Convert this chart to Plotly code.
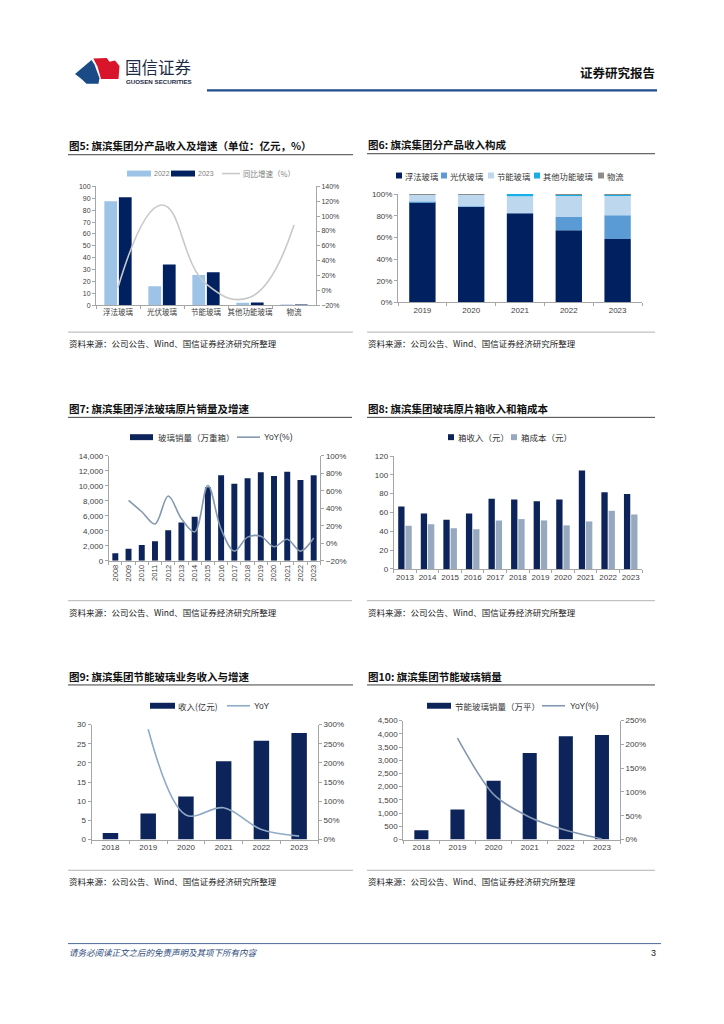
import plotly.graph_objects as go

OFF = 8           # page body margin of the browser
W, H = 708, 1008  # figure size (page area minus margins)

# ---------------- data ----------------
cat5 = ["浮法玻璃", "光伏玻璃", "节能玻璃", "其他功能玻璃", "物流"]
rev2022 = [87.5, 16.0, 25.5, 2.2, 0.2]
rev2023 = [91.0, 34.4, 27.8, 2.3, 0.4]
yoy5 = [4, 115, 9, -9, 88]

years6 = ["2019", "2020", "2021", "2022", "2023"]
float6 = [92.5, 88.2, 82.3, 66.5, 58.5]
pv6 = [0.4, 0.3, 0.0, 12.3, 22.0]
eco6 = [6.4, 10.8, 15.6, 19.5, 17.9]
other6 = [0.0, 0.0, 2.1, 1.5, 1.5]
logi6 = [0.7, 0.7, 0.0, 0.2, 0.1]
names6 = ["浮法玻璃", "光伏玻璃", "节能玻璃", "其他功能玻璃", "物流"]

years7 = ["2008", "2009", "2010", "2011", "2012", "2013", "2014", "2015",
          "2016", "2017", "2018", "2019", "2020", "2021", "2022", "2023"]
sales7 = [1000, 1600, 2100, 2600, 4050, 5100, 5850, 9800,
          11400, 10250, 11000, 11800, 11300, 11850, 10750, 11400]
yoy7 = [None, 49, 36, 22, 54, 28, 13, 66, 16, -9, 7, 8, -4, 4.5, -9, 6]

years8 = ["2013", "2014", "2015", "2016", "2017", "2018", "2019", "2020", "2021", "2022", "2023"]
rev8 = [66.3, 59.0, 52.3, 59.0, 74.7, 73.7, 72.0, 73.7, 104.6, 81.4, 79.6]
cost8 = [46.0, 47.4, 43.2, 42.1, 51.6, 53.0, 51.6, 46.3, 50.5, 61.8, 57.9]

years9 = ["2018", "2019", "2020", "2021", "2022", "2023"]
rev9 = [1.7, 6.8, 11.2, 20.4, 25.8, 27.8]
yoy9 = [None, 288, 64, 83, 26, 9]

years10 = ["2018", "2019", "2020", "2021", "2022", "2023"]
sales10 = [350, 1140, 2225, 3275, 3910, 3960]
yoy10 = [None, 213, 95, 47, 19.5, 1.3]

# ---------------- style ----------------
FONT = "Liberation Sans, Noto Sans CJK SC, sans-serif"
CJK = "Noto Sans CJK SC, sans-serif"
AX = "#a6a6a6"
TK = "#404040"
NAVY = "#0c2459"
NAVY5 = "#002060"


def xd(x0, x1):
    return [(x0 - OFF) / W, (x1 - OFF) / W]


def yd(top, bot):
    return [1 - (bot - OFF) / H, 1 - (top - OFF) / H]


def px(x, y):
    return (x - OFF) / W, 1 - (y - OFF) / H


fig = go.Figure()
layout = {}


def xaxis(name, dom, n, anchor, size=8, **kw):
    d = dict(domain=xd(*dom), anchor=anchor, type="category", range=[-0.5, n - 0.5],
             showline=True, linecolor=AX, linewidth=1, ticks="outside", ticklen=3,
             tickcolor=AX, tickson="boundaries", tickangle=0,
             tickfont=dict(size=size, color=TK, family=FONT),
             showgrid=False, zeroline=False, fixedrange=True)
    d.update(kw)
    layout[name] = d


def yaxis(name, dom, rng, dtick, anchor, side="left", overlay=None, size=8, **kw):
    d = dict(domain=yd(*dom), anchor=anchor, range=rng, dtick=dtick, side=side,
             showline=True, linecolor=AX, linewidth=1, ticks="outside", ticklen=3,
             tickcolor=AX, tickfont=dict(size=size, color=TK, family=FONT),
             showgrid=False, zeroline=False, fixedrange=True)
    if overlay:
        d["overlaying"] = overlay
    d.update(kw)
    layout[name] = d


annots = []
shapes = []


def text(x, y, s, size=9, color="#222222", bold=False, anchor="left", family=CJK):
    xx, yy = px(x, y)
    if bold:
        s = "<b>" + s + "</b>"
    annots.append(dict(x=xx, y=yy, xref="paper", yref="paper", text=s, showarrow=False,
                       xanchor=anchor, yanchor="middle", borderpad=0,
                       font=dict(size=size, color=color, family=family)))


def hline(x0, x1, y, color="#555555", width=1):
    a, b = px(x0, y)
    c, _ = px(x1, y)
    shapes.append(dict(type="line", xref="paper", yref="paper", x0=a, y0=b, x1=c, y1=b,
                       line=dict(color=color, width=width)))


def rect(x0, y0, x1, y1, color):
    a, b = px(x0, y0)
    c, d = px(x1, y1)
    shapes.append(dict(type="rect", xref="paper", yref="paper", x0=a, y0=b, x1=c, y1=d,
                       fillcolor=color, line=dict(width=0)))


def panel(xl, xr, title, ytitle, ysrc):
    text(xl, ytitle, title, size=10.5, color="#111111", bold=True)
    hline(xl, xr, ytitle + 9, color="#404040", width=1)
    hline(xl, xr, ysrc - 11, color="#a0a0a0", width=0.8)
    text(xl, ysrc, "资料来源：公司公告、Wind、国信证券经济研究所整理", size=8.5, color="#222222")


# ---------------- header / footer ----------------
red = [(93.3, 55), (106.7, 54.3), (109.5, 58.3), (115, 57), (119.5, 62.5), (118.5, 75.5),
       (101, 75.5), (99.5, 70), (97.5, 63)]
blue = [(75, 70.5), (91.5, 56.5), (94.5, 61), (97, 68), (99.5, 74.5), (98.5, 80.5),
        (86.5, 80.5), (81.5, 75.5)]


def path(pts):
    s = ""
    for i, (x, y) in enumerate(pts):
        a, b = px(x, y)
        s += ("M" if i == 0 else "L") + f"{a:.5f},{b:.5f} "
    return s + "Z"


shapes.append(dict(type="path", xref="paper", yref="paper", path=path(red),
                   fillcolor="#d9152c", line=dict(width=0)))
shapes.append(dict(type="path", xref="paper", yref="paper", path=path(blue),
                   fillcolor="#1b4b86", line=dict(width=0)))
text(124, 63.5, "国信证券", size=16.5, color="#1d2b45")
text(125, 78, "GUOSEN SECURITIES", size=6.2, color="#1d2b45", bold=True, family=FONT)
text(656, 69, "证券研究报告", size=12.5, color="#111111", bold=True, anchor="right")
hline(207, 657, 87, color="#1f4e8c", width=2.2)

hline(68, 661, 948, color="#4a6a9a", width=1)
text(68, 956, "<i>请务必阅读正文之后的免责声明及其项下所有内容</i>", size=8.5, color="#2d4a7a")
text(657, 957, "3", size=9, color="#222222", anchor="right", family=FONT)

# ---------------- chart 5 ----------------
panel(68, 353, "图5: 旗滨集团分产品收入及增速（单位：亿元，%）", 143, 342)
xaxis("xaxis", (96, 316), 5, "y", size=7.5)
yaxis("yaxis", (184, 304), [0, 100], 10, "x", size=7)
yaxis("yaxis2", (184, 304), [-20, 140], 20, "x", side="right", overlay="y", ticksuffix="%", size=7)
fig.add_trace(go.Bar(x=cat5, y=rev2022, xaxis="x", yaxis="y", marker_color="#9dc3e6",
                     width=0.29, offset=-0.31, marker_line_width=0))
fig.add_trace(go.Bar(x=cat5, y=rev2023, xaxis="x", yaxis="y", marker_color=NAVY5,
                     width=0.29, offset=0.02, marker_line_width=0))
fig.add_trace(go.Scatter(x=cat5, y=yoy5, xaxis="x", yaxis="y2", mode="lines",
                         line=dict(color="#c8c8c8", width=1.6, shape="spline", smoothing=1.3)))
rect(127, 168, 151, 174, "#9dc3e6")
text(152.5, 171, "2022", size=7, color="#7f7f7f", family=FONT)
rect(171, 168, 195, 174, NAVY5)
text(197, 171, "2023", size=7, color="#7f7f7f", family=FONT)
hline(222, 240, 171, color="#c8c8c8", width=1.6)
text(242, 171, "同比增速（%）", size=7.5, color="#7f7f7f")

# ---------------- chart 6 ----------------
panel(367, 655, "图6: 旗滨集团分产品收入构成", 142, 342)
xaxis("xaxis2", (398, 642), 5, "y3")
yaxis("yaxis3", (191.7, 301), [0, 100], 20, "x2", ticksuffix="%")
cols6 = [NAVY5, "#5b9bd5", "#bdd7ee", "#16aee6", "#8c8c8c"]
series6 = [float6, pv6, eco6, other6, logi6]
base = [0.0] * 5
for s, c in zip(series6, cols6):
    fig.add_trace(go.Bar(x=years6, y=s, base=list(base), xaxis="x2", yaxis="y3",
                         marker_color=c, width=0.54, marker_line_width=0))
    base = [b + v for b, v in zip(base, s)]
lx6 = [399, 444, 491, 537, 601]
for xx, c, n in zip(lx6, cols6, names6):
    rect(xx - 3, 170, xx + 3, 176, c)
    text(xx + 5, 173, n, size=8.3, color="#333333")

# ---------------- chart 7 ----------------
panel(68, 352, "图7: 旗滨集团浮法玻璃原片销量及增速", 408, 613)
xaxis("xaxis3", (108.7, 320.3), 16, "y4", tickangle=-90, size=7.5)
yaxis("yaxis4", (455.7, 561.7), [0, 14000], 2000, "x3", tickformat=",")
yaxis("yaxis5", (455.7, 561.7), [-20, 100], 20, "x3", side="right", overlay="y4", ticksuffix="%")
fig.add_trace(go.Bar(x=years7, y=sales7, xaxis="x3", yaxis="y4", marker_color=NAVY,
                     width=0.45, marker_line_width=0))
fig.add_trace(go.Scatter(x=years7, y=yoy7, xaxis="x3", yaxis="y5", mode="lines",
                         line=dict(color="#8497b0", width=1.6, shape="spline", smoothing=1.0)))
rect(130, 434, 153, 440, NAVY)
text(157, 437, "玻璃销量（万重箱）", size=8.5, color="#333333")
hline(237, 260, 437, color="#8497b0", width=1.6)
text(263, 437, "YoY(%)", size=8.5, color="#333333", family=FONT)

# ---------------- chart 8 ----------------
panel(367, 655, "图8: 旗滨集团玻璃原片箱收入和箱成本", 408, 613)
xaxis("xaxis4", (393.7, 642), 11, "y6")
yaxis("yaxis6", (456, 570), [0, 120], 20, "x4")
fig.add_trace(go.Bar(x=years8, y=rev8, xaxis="x4", yaxis="y6", marker_color=NAVY,
                     width=0.28, offset=-0.3, marker_line_width=0))
fig.add_trace(go.Bar(x=years8, y=cost8, xaxis="x4", yaxis="y6", marker_color="#97a9bf",
                     width=0.28, offset=0.02, marker_line_width=0))
rect(448, 434, 454, 440, NAVY)
text(457, 437, "箱收入（元）", size=8.5, color="#333333")
rect(511, 434, 517, 440, "#97a9bf")
text(520, 437, "箱成本（元）", size=8.5, color="#333333")

# ---------------- chart 9 ----------------
panel(68, 353, "图9: 旗滨集团节能玻璃业务收入与增速", 678, 885)
xaxis("xaxis5", (91.6, 318), 6, "y7")
yaxis("yaxis7", (727, 843), [0, 30], 5, "x5")
yaxis("yaxis8", (727, 843), [0, 300], 50, "x5", side="right", overlay="y7", ticksuffix="%")
fig.add_trace(go.Bar(x=years9, y=rev9, xaxis="x5", yaxis="y7", marker_color=NAVY,
                     width=0.41, marker_line_width=0))
fig.add_trace(go.Scatter(x=years9, y=yoy9, xaxis="x5", yaxis="y8", mode="lines",
                         line=dict(color="#8eaac6", width=1.6, shape="spline", smoothing=1.0)))
rect(150, 705, 175, 711, NAVY)
text(177, 708, "收入(亿元)", size=8.5, color="#333333")
hline(227, 250, 708, color="#8eaac6", width=1.6)
text(253, 708, "YoY", size=8.5, color="#333333", family=FONT)

# ---------------- chart 10 ----------------
panel(367, 655, "图10: 旗滨集团节能玻璃销量", 678, 885)
xaxis("xaxis6", (403.3, 620), 6, "y9")
yaxis("yaxis9", (723, 843), [0, 4500], 500, "x6", tickformat=",")
yaxis("yaxis10", (723, 843), [0, 250], 50, "x6", side="right", overlay="y9", ticksuffix="%")
fig.add_trace(go.Bar(x=years10, y=sales10, xaxis="x6", yaxis="y9", marker_color=NAVY,
                     width=0.39, marker_line_width=0))
fig.add_trace(go.Scatter(x=years10, y=yoy10, xaxis="x6", yaxis="y10", mode="lines",
                         line=dict(color="#8497b0", width=1.6, shape="spline", smoothing=0.8)))
rect(427, 705, 451, 711, NAVY)
text(454, 708, "节能玻璃销量（万平）", size=8.5, color="#333333")
hline(542, 565, 708, color="#8497b0", width=1.6)
text(569, 708, "YoY(%)", size=8.5, color="#333333", family=FONT)

fig.update_layout(width=W, height=H, margin=dict(l=0, r=0, t=0, b=0),
                  paper_bgcolor="white", plot_bgcolor="white", showlegend=False,
                  barmode="overlay", font=dict(family=FONT, size=9, color=TK),
                  annotations=annots, shapes=shapes, **layout)

fig.write_html("out.html")
